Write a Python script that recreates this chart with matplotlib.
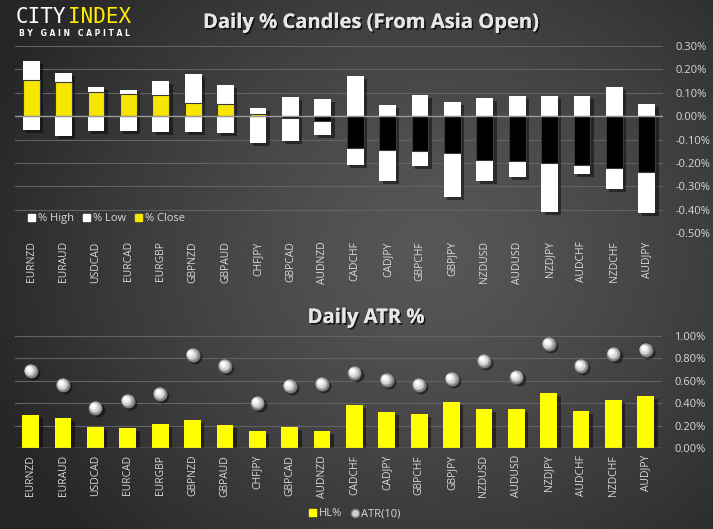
import numpy as np
import matplotlib
matplotlib.use("Agg")
import matplotlib.pyplot as plt
import matplotlib.patheffects as pe
import matplotlib.transforms as mtransforms
from matplotlib.lines import Line2D
from matplotlib.patches import Patch

pairs = ['EURNZD', 'EURAUD', 'USDCAD', 'EURCAD', 'EURGBP', 'GBPNZD', 'GBPAUD', 'CHFJPY',
         'GBPCAD', 'AUDNZD', 'CADCHF', 'CADJPY', 'GBPCHF', 'GBPJPY', 'NZDUSD', 'AUDUSD',
         'NZDJPY', 'AUDCHF', 'NZDCHF', 'AUDJPY']
pct_high = [0.236, 0.184, 0.124, 0.113, 0.150, 0.180, 0.133, 0.034, 0.081, 0.073,
            0.170, 0.047, 0.090, 0.060, 0.077, 0.086, 0.086, 0.086, 0.124, 0.051]
pct_low = [-0.060, -0.084, -0.064, -0.064, -0.069, -0.069, -0.073, -0.116, -0.107, -0.081,
           -0.209, -0.279, -0.214, -0.347, -0.279, -0.261, -0.410, -0.249, -0.313, -0.416]
pct_close = [0.153, 0.144, 0.104, 0.096, 0.091, 0.057, 0.053, 0.010, -0.009, -0.019,
             -0.136, -0.147, -0.149, -0.157, -0.187, -0.191, -0.200, -0.207, -0.221, -0.241]
hl_pct = [0.295, 0.268, 0.188, 0.179, 0.214, 0.250, 0.205, 0.152, 0.188, 0.152,
          0.384, 0.321, 0.304, 0.410, 0.348, 0.348, 0.491, 0.330, 0.429, 0.464]
atr10 = [0.688, 0.563, 0.357, 0.420, 0.482, 0.830, 0.732, 0.402, 0.554, 0.571,
         0.670, 0.607, 0.563, 0.616, 0.777, 0.634, 0.929, 0.732, 0.839, 0.875]
top_ticks = [0.3, 0.2, 0.1, 0.0, -0.1, -0.2, -0.3, -0.4, -0.5]
bot_ticks = [0.0, 0.2, 0.4, 0.6, 0.8, 1.0]

W, H = 713, 529
plt.rcParams['font.family'] = ['Open Sans', 'DejaVu Sans']
fig = plt.figure(figsize=(W / 100, H / 100), dpi=100)

# background radial gradient
bg = fig.add_axes([0, 0, 1, 1], zorder=-10)
yy, xx = np.mgrid[0:H, 0:W]
d = np.sqrt(((xx - 430) / 1.0) ** 2 + ((yy - 250) / 0.9) ** 2)
v = 0x57 - (0x57 - 0x26) * np.clip(d / 470, 0, 1) ** 1.3
img = np.dstack([v, v, v]) / 255.0
bg.imshow(img, aspect='auto', extent=[0, 1, 0, 1], origin='upper')
bg.axis('off')

txt_col = '#d8d8d8'
grid_col = '#636363'
x = np.arange(len(pairs))
bw = 0.52
shadow = [pe.withSimplePatchShadow(offset=(2.5, -2), shadow_rgbFace='black', alpha=0.45)]


def fx(px):
    return px / W


def fy(py):
    return 1 - py / H


# ---------- top chart ----------
ax1 = fig.add_axes([fx(15), fy(233), fx(648), (233 - 46) / H])
ax1.set_facecolor('none')
ax1.set_xlim(-0.5, len(pairs) - 0.5)
ax1.set_ylim(-0.5, 0.3)
for t in top_ticks:
    ax1.axhline(t, color=grid_col, lw=0.8, zorder=0)
ax1.axhline(0, color='#9a9a9a', lw=1.0, zorder=3)
b_hi = ax1.bar(x, pct_high, width=bw, color='white', zorder=2, label='% High')
b_lo = ax1.bar(x, pct_low, width=bw, color='white', zorder=2, label='% Low')
for b in list(b_hi) + list(b_lo):
    b.set_path_effects(shadow)
close_cols = ['#f7e600' if c >= 0 else 'black' for c in pct_close]
ax1.bar(x, pct_close, width=bw, color=close_cols, edgecolor='#3a3a3a', lw=0.8, zorder=2.5)
for s in ax1.spines.values():
    s.set_visible(False)
ax1.yaxis.tick_right()
ax1.set_yticks(top_ticks)
ax1.set_yticklabels([f'{t:.2f}%' for t in top_ticks])
ax1.tick_params(axis='y', length=0, pad=9, labelsize=8, labelcolor=txt_col)
ax1.set_xticks(x)
ax1.set_xticklabels(pairs, rotation=90)
ax1.tick_params(axis='x', length=0, pad=6, labelsize=7.5, labelcolor=txt_col)
leg1 = ax1.legend(handles=[Patch(color='white', label='% High'),
                           Patch(color='white', label='% Low'),
                           Patch(color='#f7e600', label='% Close')],
                  loc='center left', bbox_to_anchor=(0.005, 0.075), ncol=3, frameon=False,
                  fontsize=8, handlelength=0.6, handleheight=0.6, handletextpad=0.3,
                  columnspacing=0.8, labelcolor=txt_col)

title_fx = [pe.withSimplePatchShadow(offset=(1.2, -1.2), shadow_rgbFace='black', alpha=0.7), pe.Normal()]
fig.text(fx(371), fy(23), 'Daily % Candles (From Asia Open)', ha='center', va='center',
         fontsize=14.5, fontweight='bold', color='#e6e6e6', path_effects=title_fx)

# ---------- bottom chart ----------
ax2 = fig.add_axes([fx(14.5), fy(448), fx(647.5), (448 - 336) / H])
ax2.set_facecolor('none')
ax2.set_xlim(-0.5, len(pairs) - 0.5)
ax2.set_ylim(0, 1.0)
for t in bot_ticks[1:]:
    ax2.axhline(t, color=grid_col, lw=0.8, zorder=0)
ax2.axhline(0, color='#9a9a9a', lw=1.0, zorder=3)
bars2 = ax2.bar(x, hl_pct, width=bw, color='#ffff00', zorder=2)
for b in bars2:
    b.set_path_effects(shadow)


def offset(dx, dy):
    return ax2.transData + mtransforms.ScaledTranslation(dx / 72, dy / 72, fig.dpi_scale_trans)


ax2.scatter(x, atr10, s=100, color='black', alpha=0.45, zorder=4, transform=offset(1.6, -1.6), lw=0)
ax2.scatter(x, atr10, s=100, color='#7e7e7e', zorder=5, lw=0)
ax2.scatter(x, atr10, s=75, color='#acacac', zorder=6, lw=0, transform=offset(-0.5, 0.5))
ax2.scatter(x, atr10, s=48, color='#d6d6d6', zorder=7, lw=0, transform=offset(-1.0, 1.0))
ax2.scatter(x, atr10, s=22, color='#f4f4f4', zorder=8, lw=0, transform=offset(-1.5, 1.5))
ax2.scatter(x, atr10, s=7, color='white', zorder=9, lw=0, transform=offset(-1.9, 1.9))
for s in ax2.spines.values():
    s.set_visible(False)
ax2.yaxis.tick_right()
ax2.set_yticks(bot_ticks)
ax2.set_yticklabels([f'{t:.2f}%' for t in bot_ticks])
ax2.tick_params(axis='y', length=0, pad=9, labelsize=8, labelcolor=txt_col)
ax2.set_xticks(x)
ax2.set_xticklabels(pairs, rotation=90)
ax2.tick_params(axis='x', length=0, pad=5, labelsize=7.5, labelcolor=txt_col)

fig.text(fx(366), fy(318), 'Daily ATR %', ha='center', va='center',
         fontsize=14.5, fontweight='bold', color='#e6e6e6', path_effects=title_fx)

fig.legend(handles=[Patch(color='#ffff00', label='HL%'),
                    Line2D([], [], marker='o', ls='none', markersize=6, markerfacecolor='#cfcfcf',
                           markeredgecolor='#7a7a7a', label='ATR(10)')],
           loc='center', bbox_to_anchor=(fx(355), fy(514)), ncol=2, frameon=False,
           fontsize=8, handlelength=0.6, handleheight=0.6, handletextpad=0.3,
           columnspacing=0.8, labelcolor=txt_col)

# ---------- logo ----------
fig.text(fx(16), fy(17), 'CITY', ha='left', va='center', fontsize=15,
         family='DejaVu Sans Mono', color='white')
fig.text(fx(68), fy(17), 'INDEX', ha='left', va='center', fontsize=15,
         family='DejaVu Sans Mono', color='#ffec00')
fig.text(fx(19), fy(33.5), 'B Y   G A I N   C A P I T A L', ha='left', va='center',
         fontsize=5.5, fontweight='bold', family='DejaVu Sans', color='white')

fig.savefig('out.png', dpi=100)
